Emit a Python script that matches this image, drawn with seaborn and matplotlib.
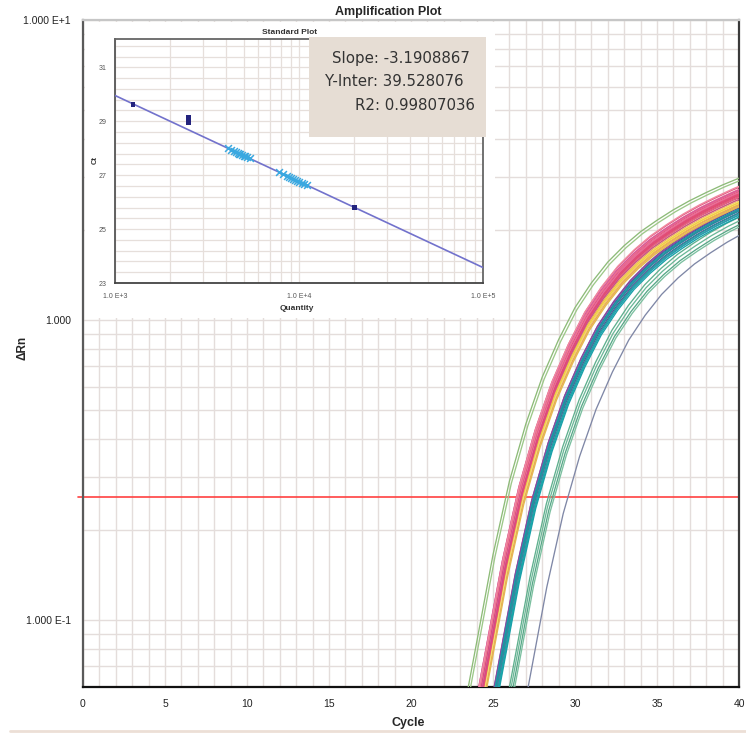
import numpy as np
import pandas as pd
import matplotlib
matplotlib.use("Agg")
import matplotlib.pyplot as plt
from matplotlib.ticker import FixedLocator, LogLocator, NullFormatter, MultipleLocator
from matplotlib.lines import Line2D
import seaborn as sns

# ---------------------------------------------------------------- data
# Delta Rn of the earliest-rising well, one value per cycle
profile_cycles = list(range(22, 41))
profile_drn = [0.022, 0.043, 0.084, 0.165, 0.29, 0.45, 0.645, 0.86, 1.10,
               1.33, 1.56, 1.77, 1.97, 2.15, 2.33, 2.50, 2.66, 2.82, 2.97]

# every well: delay in cycles and plateau scale relative to that profile
well_delay = [3.28,
              2.25, 2.32, 2.40, 2.48,
              1.44, 1.42, 1.48, 1.38, 1.52, 1.35, 1.40, 1.55, 1.45, 1.58, 1.50, 1.60,
              0.70, 0.75, 0.78, 0.72, 0.82, 0.68, 0.85, 0.80, 0.74, 0.88,
              0.60, 0.62, 0.65, 0.66, 0.68, 0.70, 0.72, 0.58, 0.64, 0.74, 0.76,
              0.55, 0.78, 0.62, 0.69, 0.80,
              0.12, 0.00]
well_scale = [0.78,
              0.84, 0.82, 0.80, 0.79,
              0.86, 0.84, 0.83, 0.87, 0.82, 0.86, 0.85, 0.83, 0.84, 0.82, 0.85, 0.81,
              0.86, 0.85, 0.86, 0.87, 0.84, 0.88, 0.85, 0.87, 0.86, 0.84,
              0.93, 0.92, 0.94, 0.91, 0.95, 0.92, 0.90, 0.96, 0.89, 0.93, 0.91,
              0.94, 0.90, 0.97, 0.88, 0.92,
              0.985, 1.00]
well_color = ["#7f87a6",
              "#5fb08e", "#6cb898", "#58a888", "#7cc0a0",
              "#3a4aa0", "#2a5aa8", "#6a3a96", "#7f4aa2", "#9a58b0", "#8a4a9e",
              "#1a9ca6", "#1aa4a0", "#22949e", "#1ba8b0", "#2a8fa0", "#1aa0a8",
              "#f2d24a", "#f0c040", "#f5e070", "#e8b04a", "#f4d85a", "#efc85a",
              "#e9a85a", "#f6e27a", "#f0cc48", "#e4b850",
              "#e0507a", "#d8468c", "#e86a8a", "#c94f8e", "#f07890", "#e35a6f",
              "#d44a78", "#e45c86", "#cc3f7e", "#ea6d98", "#df4f6a",
              "#d85a9a", "#e86080", "#f08aa0", "#c8508c", "#e24a7a",
              "#9cc888", "#8dbb78"]

threshold = 0.257

# standard curve
std_slope = -3.1908867
std_intercept = 39.528076
std_r2 = 0.99807036
std_quantity = [1250, 2500, 2500, 2500, 20000]
std_ct = [29.63, 28.96, 29.06, 29.16, 25.80]
unknown_ct = [27.62, 27.66, 27.70, 27.72, 27.75, 27.78, 27.80, 27.83, 27.86,
              27.90, 27.95, 28.00,
              26.62, 26.68, 26.72, 26.76, 26.80, 26.83, 26.86, 26.90, 26.94,
              26.98, 27.05, 27.12]

# ---------------------------------------------------------------- style
sns.set_style("white")
plt.rcParams["font.family"] = ["Liberation Sans", "DejaVu Sans"]

W, H = 746, 733
fig = plt.figure(figsize=(W / 100, H / 100), dpi=100)


def rect(x0, y0, x1, y1):
    """pixel box (top-left origin) -> figure fraction rectangle"""
    return [x0 / W, 1 - y1 / H, (x1 - x0) / W, (y1 - y0) / H]


def fx(px):
    return px / W


def fy(py):
    return 1 - py / H


grid_col = "#e4dddb"
tick_col = "#d6cfcc"

# ---------------------------------------------------------------- amplification plot
ax = fig.add_axes(rect(83, 20, 739, 687))
ax.set_yscale("log")

wells = [f"W{i:02d}" for i in range(len(well_delay))]
rows = []
for w, d, s in zip(wells, well_delay, well_scale):
    for c, v in zip(profile_cycles, profile_drn):
        rows.append({"Well": w, "Cycle": c + d, "dRn": v * s})
amp = pd.DataFrame(rows)

sns.lineplot(data=amp, x="Cycle", y="dRn", hue="Well", hue_order=wells,
             palette=dict(zip(wells, well_color)), estimator=None, sort=False,
             legend=False, lw=0.95, ax=ax, zorder=3)

ax.plot([-0.007, 1.0], [threshold, threshold], transform=ax.get_yaxis_transform(),
        color="#ff4141", lw=1.2, clip_on=False, zorder=2)

ax.set_xlim(0, 40)
ax.set_ylim(0.0598, 10)
ax.xaxis.set_major_locator(MultipleLocator(5))
ax.xaxis.set_minor_locator(MultipleLocator(1))
ax.set_yticks([0.1, 1, 10])
ax.set_yticklabels(["1.000 E-1", "1.000", "1.000 E+1"])
ax.yaxis.set_minor_locator(LogLocator(base=10, subs=range(2, 10)))
ax.yaxis.set_minor_formatter(NullFormatter())
ax.grid(True, which="both", color=grid_col, lw=1.0)
ax.set_axisbelow(True)
ax.tick_params(axis="y", which="major", length=8, width=1, color="#bdb5b1",
               labelsize=7.5, pad=0.8, labelcolor="#222222")
ax.tick_params(axis="y", which="minor", length=3.6, width=1, color="#bdb5b1")
ax.tick_params(axis="x", which="major", length=5, width=1, color=tick_col,
               labelsize=7.5, pad=3.5, labelcolor="#222222")
ax.tick_params(axis="x", which="minor", length=4, width=1, color=tick_col)
ax.set_xlabel("")
ax.set_ylabel("")
for side, col in [("left", "#5a5a5a"), ("bottom", "#111111"),
                  ("right", "#3a3a3a"), ("top", "#c6c6c6")]:
    ax.spines[side].set_color(col)
    ax.spines[side].set_linewidth(1.6)

fig.text(fx(388), fy(12), "Amplification Plot", ha="center", va="center",
         fontsize=9, fontweight="bold")
fig.text(fx(408), fy(723), "Cycle", ha="center", va="center",
         fontsize=9, fontweight="bold")
fig.text(fx(22), fy(348), "\u0394Rn", ha="center", va="center",
         fontsize=8.5, fontweight="bold", rotation=90)

# ---------------------------------------------------------------- standard plot inset
box = fig.add_axes(rect(85, 22, 495, 318))
box.set_facecolor("white")
box.set_xticks([])
box.set_yticks([])
for sp in box.spines.values():
    sp.set_visible(False)
box.set_zorder(2)

axi = fig.add_axes(rect(115, 39, 483, 283))
axi.set_zorder(3)
axi.set_xscale("log")

q_line = [1e3, 1e5]
ct_line = [std_slope * np.log10(q) + std_intercept for q in q_line]
sns.lineplot(x=q_line, y=ct_line, ax=axi, color="#7272cc", lw=1.2, zorder=3)

unknown_q = [10 ** ((ct - std_intercept) / std_slope) for ct in unknown_ct]
sns.scatterplot(x=unknown_q, y=unknown_ct, ax=axi, marker="x", s=24,
                color="#3aa8e0", linewidth=1.1, zorder=4)
sns.scatterplot(x=std_quantity, y=std_ct, ax=axi, marker="s", s=11,
                color="#23237e", edgecolor="none", zorder=5)

axi.set_xlim(1e3, 1e5)
axi.set_ylim(23, 32.05)
axi.set_xticks([1e3, 1e4, 1e5])
axi.set_xticklabels(["1.0 E+3", "1.0 E+4", "1.0 E+5"])
axi.xaxis.set_minor_locator(LogLocator(base=10, subs=range(2, 10)))
axi.xaxis.set_minor_formatter(NullFormatter())
axi.set_yticks([23, 25, 27, 29, 31])
axi.yaxis.set_minor_locator(FixedLocator(np.arange(23, 32.05, 0.4)))
axi.grid(True, which="both", color="#e6dfdb", lw=0.9)
axi.set_axisbelow(True)
axi.tick_params(axis="both", which="both", length=0, labelsize=5, labelcolor="#555555")
axi.tick_params(axis="x", pad=7)
axi.tick_params(axis="y", pad=6)
axi.set_xlabel("")
axi.set_ylabel("")
for side, col in [("left", "#555555"), ("bottom", "#444444"),
                  ("right", "#666666"), ("top", "#666666")]:
    axi.spines[side].set_color(col)
    axi.spines[side].set_linewidth(1.3)

fig.text(fx(290), fy(33), "Standard Plot", ha="center", va="center",
         fontsize=6, fontweight="bold", color="#333333", zorder=10)
fig.text(fx(297), fy(309), "Quantity", ha="center", va="center",
         fontsize=6, fontweight="bold", color="#333333", zorder=10)
fig.text(fx(95), fy(160), "Ct", ha="center", va="center", rotation=90,
         fontsize=5.5, fontweight="bold", color="#333333", zorder=10)

# regression summary
stats = fig.add_axes(rect(309, 37, 486, 137))
stats.set_zorder(4)
stats.set_facecolor("#e6ddd4")
stats.set_xticks([])
stats.set_yticks([])
for sp in stats.spines.values():
    sp.set_visible(False)
stat_font = dict(fontsize=10.8, color="#333333", family=["DejaVu Sans"],
                 va="center", ha="left", zorder=11)
fig.text(fx(332), fy(59), f"Slope: {std_slope}", **stat_font)
fig.text(fx(325), fy(82), f"Y-Inter: {std_intercept}", **stat_font)
fig.text(fx(355), fy(106), f"R2: {std_r2}", **stat_font)

fig.add_artist(Line2D([10 / W, 1.0], [fy(731), fy(731)], color="#ecdfd6", lw=2))

fig.savefig("out.png", dpi=100)
